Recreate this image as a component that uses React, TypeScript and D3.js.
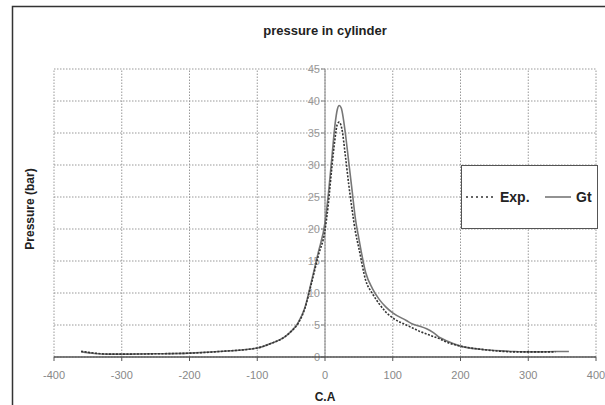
import React from "react";
import * as d3 from "d3";

const expCA = [-360, -340, -320, -300, -250, -200, -150, -100, -80, -60, -50, -40, -30, -20, -10, 0, 5, 10, 15, 18, 21, 25, 30, 35, 40, 45, 50, 60, 70, 80, 90, 100, 120, 130, 140, 160, 170, 180, 200, 230, 260, 280, 300, 320, 340];
const expP = [0.9, 0.6, 0.45, 0.45, 0.5, 0.6, 0.9, 1.4, 2.1, 3.1, 4.0, 5.2, 7.5, 11.5, 15.8, 19.8, 24, 29.5, 34.3, 36.3, 36.7, 35.6, 31.5, 27, 23, 19.5, 17, 12.0, 9.9, 8.3, 7.0, 6.1, 5.0, 4.5, 4.0, 3.2, 2.8, 2.3, 1.7, 1.2, 0.9, 0.8, 0.8, 0.8, 0.8];

const gtCA = [-360, -340, -320, -300, -250, -200, -150, -100, -80, -60, -50, -40, -30, -20, -10, 0, 5, 10, 15, 18, 21, 24, 27, 30, 35, 40, 45, 50, 60, 70, 80, 90, 100, 120, 130, 140, 150, 160, 170, 180, 200, 230, 260, 280, 300, 320, 340, 360];
const gtP = [0.8, 0.55, 0.45, 0.45, 0.5, 0.6, 0.9, 1.4, 2.1, 3.1, 4.0, 5.3, 7.6, 11.8, 16.3, 21, 25.5, 31, 36.5, 38.6, 39.3, 38.9, 37.3, 35, 30.5, 26, 21.5, 18.5, 13.2, 10.7, 9.0, 7.8, 6.9, 5.7, 5.1, 4.8, 4.4, 3.8, 3.0, 2.5, 1.7, 1.2, 0.95, 0.85, 0.8, 0.8, 0.85, 0.85];

const xTicks = [-400, -300, -200, -100, 0, 100, 200, 300, 400];
const yTicks = [0, 5, 10, 15, 20, 25, 30, 35, 40, 45];

const title = "pressure in cylinder";
const xTitle = "C.A";
const yTitle = "Pressure (bar)";
const seriesNames = ["Exp.", "Gt"];

export default function App() {
  const x = d3.scaleLinear().domain([-400, 400]).range([54, 596]);
  const y = d3.scaleLinear().domain([0, 45]).range([357, 69]);

  const line = d3
    .line<[number, number]>()
    .x((d) => x(d[0]))
    .y((d) => y(d[1]))
    .curve(d3.curveMonotoneX);

  const expData: [number, number][] = expCA.map((c, i) => [c, expP[i]]);
  const gtData: [number, number][] = gtCA.map((c, i) => [c, gtP[i]]);

  const font = "'Liberation Sans', Arial, sans-serif";

  return (
    <svg
      width={605}
      height={405}
      style={{ position: "fixed", left: 0, top: 0, background: "#fff" }}
    >
      <rect x={0} y={0} width={605} height={405} fill="#fff" />
      {/* outer frame */}
      <path d="M12.5,420 L12.5,6.5 L620,6.5" fill="none" stroke="#333" strokeWidth={1.5} />

      {/* title */}
      <text x={325} y={35} textAnchor="middle" fontFamily={font} fontWeight="bold" fontSize={13} fill="#222">
        {title}
      </text>

      {/* grid */}
      {yTicks.map((t) => (
        <line key={"gy" + t} x1={x(-400)} x2={x(400)} y1={y(t)} y2={y(t)} stroke="#999" strokeDasharray="1.5,1.5" strokeWidth={1} />
      ))}
      {xTicks.map((t) => (
        <line key={"gx" + t} x1={x(t)} x2={x(t)} y1={y(0)} y2={y(45)} stroke="#999" strokeDasharray="1.5,1.5" strokeWidth={1} />
      ))}

      {/* y axis at x=0 */}
      <line x1={x(0)} x2={x(0)} y1={y(0)} y2={y(45)} stroke="#888" strokeWidth={1} />
      {yTicks.map((t) => (
        <line key={"ty" + t} x1={x(0) - 4} x2={x(0)} y1={y(t)} y2={y(t)} stroke="#888" strokeWidth={1} />
      ))}
      {yTicks.map((t) => (
        <text key={"ly" + t} x={x(0) - 5} y={y(t) + 4} textAnchor="end" fontFamily={font} fontSize={11} fill="#999">
          {t}
        </text>
      ))}

      {/* x axis */}
      <line x1={x(-400)} x2={x(400)} y1={y(0)} y2={y(0)} stroke="#555" strokeWidth={1.5} />
      {xTicks.map((t) => (
        <line key={"tx" + t} x1={x(t)} x2={x(t)} y1={y(0)} y2={y(0) + 4} stroke="#555" strokeWidth={1} />
      ))}
      {xTicks.map((t) => (
        <text key={"lx" + t} x={x(t)} y={379} textAnchor="middle" fontFamily={font} fontSize={11} fill="#888">
          {t}
        </text>
      ))}

      {/* series */}
      <path d={line(gtData) || ""} fill="none" stroke="#777" strokeWidth={1.6} />
      <path d={line(expData) || ""} fill="none" stroke="#333" strokeWidth={1.6} strokeDasharray="2,1.5" />

      {/* axis titles */}
      <text x={325} y={401} textAnchor="middle" fontFamily={font} fontWeight="bold" fontSize={12} fill="#222">
        {xTitle}
      </text>
      <text
        transform="translate(34,209) rotate(-90)"
        textAnchor="middle"
        fontFamily={font}
        fontWeight="bold"
        fontSize={12}
        fill="#222"
      >
        {yTitle}
      </text>

      {/* legend */}
      <rect x={461.5} y={165.5} width={136} height={63} fill="#fff" stroke="#555" strokeWidth={1} />
      <line x1={466} x2={496} y1={197} y2={197} stroke="#333" strokeWidth={1.6} strokeDasharray="2,3" />
      <text x={500} y={202} fontFamily={font} fontWeight="bold" fontSize={14} fill="#222">
        {seriesNames[0]}
      </text>
      <line x1={545} x2={571} y1={197} y2={197} stroke="#777" strokeWidth={1.6} />
      <text x={576} y={202} fontFamily={font} fontWeight="bold" fontSize={14} fill="#222">
        {seriesNames[1]}
      </text>
    </svg>
  );
}
